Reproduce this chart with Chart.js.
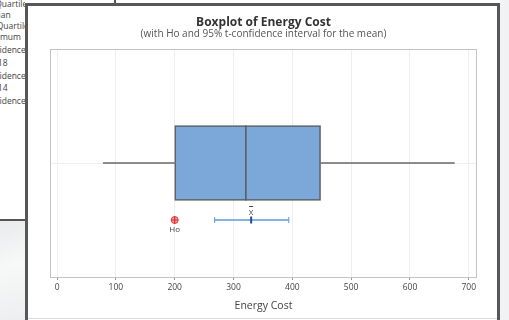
<!DOCTYPE html>
<html>
<head>
<meta charset="utf-8">
<title>Boxplot of Energy Cost</title>
<script src="https://cdn.jsdelivr.net/npm/chart.js@4.4.1/dist/chart.umd.min.js"></script>
<style>
    html, body { margin: 0; padding: 0; }
    body {
        width: 509px; height: 320px; overflow: hidden; position: relative;
        background: #f1f2f3;
        font-family: "Open Sans", "Noto Sans", sans-serif;
    }
    /* session window peeking out behind the graph */
    #behind {
        position: absolute; left: 0; top: 0; width: 25px; height: 219px;
        background: #fff; overflow: hidden;
    }
    #behind div {
        position: absolute; left: -19px; white-space: nowrap;
        font-size: 8.5px; line-height: 12px; color: #444;
    }
    #behind-rule { position: absolute; left: 0; top: 219px; width: 25px; height: 2px; background: #555; }
    #desk {
        position: absolute; left: 0; top: 221px; width: 25px; height: 99px;
        background: linear-gradient(160deg, #e9ebec 0%, #f7f8f8 45%, #eceeef 100%);
    }
    #topstrip { position: absolute; left: 25px; top: 0; width: 475px; height: 3px; background: #fff; }
    #topstrip-tick { position: absolute; left: 114px; top: 0; width: 2px; height: 3px; background: #555; }
    #win {
        position: absolute; left: 25px; top: 3px; width: 475px; height: 317px;
        box-sizing: border-box; background: #fff;
        border-left: 3px solid #575757; border-top: 3px solid #575757; border-right: 3px solid #575757;
    }
    #win-bottom { position: absolute; left: 28px; top: 318px; width: 469px; height: 1px; background: #dcdcdc; }
    #chart { position: absolute; left: 28px; top: 6px; }
</style>
</head>
<body>

<div id="behind">
    <div style="top:-2px">1st Quartile</div>
    <div style="top:9px">Median</div>
    <div style="top:20px">3rd Quartile</div>
    <div style="top:31px">Maximum</div>
    <div style="top:44px">Confidence Interval</div>
    <div style="top:57px">301.18</div>
    <div style="top:70px">Confidence Interval</div>
    <div style="top:82px">254.14</div>
    <div style="top:95px">Confidence Interval</div>
    <div style="top:107px">Pr</div>
</div>
<div id="behind-rule"></div>
<div id="desk"></div>
<div id="topstrip"></div>
<div id="topstrip-tick"></div>
<div id="win"></div>
<div id="win-bottom"></div>

<canvas id="chart" width="469" height="312"></canvas>

<script>
/* -------------------------------
   Data
--------------------------------*/
const categories  = ["Energy Cost"];
const whiskerLow  = [78];
const boxQ1       = [200];
const boxMedian   = [321];
const boxQ3       = [448];
const whiskerHigh = [676];

const meanValue   = [330];
const ciLow       = [268];
const ciHigh      = [394];
const hoValue     = [200];

const tickValues  = [0, 100, 200, 300, 400, 500, 600, 700];

// rows on the hidden y scale
const BOX_ROW = 2;
const CI_ROW  = 1;
const BOX_HALF = 0.658;

const FONT = "'Open Sans', 'Noto Sans', sans-serif";

/* -------------------------------
   Plugin: plot frame + labels
--------------------------------*/
const minitabExtras = {
    id: "minitabExtras",
    afterDatasetsDraw(chart) {
        const { ctx, scales: { x, y } } = chart;

        ctx.save();
        ctx.fillStyle = "#444";
        ctx.textAlign = "center";
        ctx.textBaseline = "middle";
        ctx.font = "8px " + FONT;

        // "Ho" under the hypothesised value
        ctx.fillText("Ho", x.getPixelForValue(hoValue[0]), y.getPixelForValue(CI_ROW) + 9.5);

        // X-bar above the mean
        const mx = x.getPixelForValue(meanValue[0]);
        const my = y.getPixelForValue(CI_ROW);
        ctx.fillText("X", mx, my - 7);
        ctx.strokeStyle = "#444";
        ctx.lineWidth = 1;
        ctx.beginPath();
        ctx.moveTo(mx - 2, my - 13.5);
        ctx.lineTo(mx + 2, my - 13.5);
        ctx.stroke();
        ctx.restore();
    },
    afterDraw(chart) {
        const { ctx, chartArea: a } = chart;
        ctx.save();
        ctx.strokeStyle = "#c3c3c3";
        ctx.lineWidth = 1;
        ctx.strokeRect(a.left + 0.5, a.top + 0.5, a.right - a.left - 1, a.bottom - a.top);
        ctx.restore();
    }
};

/* -------------------------------
   Datasets
--------------------------------*/
const boxData   = categories.map((c, i) => ({ x: [boxQ1[i], boxQ3[i]], y: BOX_ROW }));
const medData   = [{ x: boxMedian[0], y: BOX_ROW - BOX_HALF }, { x: boxMedian[0], y: BOX_ROW + BOX_HALF }];
const lowWhisk  = [{ x: whiskerLow[0], y: BOX_ROW }, { x: boxQ1[0], y: BOX_ROW }];
const highWhisk = [{ x: boxQ3[0], y: BOX_ROW }, { x: whiskerHigh[0], y: BOX_ROW }];
const ciData    = [{ x: ciLow[0], y: CI_ROW }, { x: ciHigh[0], y: CI_ROW }];
const meanData  = [{ x: meanValue[0], y: CI_ROW }];
const hoData    = [{ x: hoValue[0], y: CI_ROW }];

const lineBase = {
    type: "line",
    showLine: true,
    pointRadius: 0,
    borderColor: "#686868",
    borderWidth: 1.3,
    order: 1
};

new Chart(document.getElementById("chart"), {
    type: "bar",
    data: {
        datasets: [
            {
                label: "Box",
                data: boxData,
                backgroundColor: "#7ba7d9",
                borderColor: "#595959",
                borderWidth: 1.5,
                borderSkipped: false,
                barThickness: 75,
                order: 5
            },
            Object.assign({}, lineBase, { label: "Median", data: medData, borderColor: "#595959", borderWidth: 1.5 }),
            Object.assign({}, lineBase, { label: "Lower whisker", data: lowWhisk }),
            Object.assign({}, lineBase, { label: "Upper whisker", data: highWhisk }),
            {
                type: "line",
                label: "95% CI",
                data: ciData,
                borderColor: "#5d9ad8",
                borderWidth: 1.5,
                pointStyle: "line",
                rotation: 90,
                pointRadius: 3,
                pointBorderColor: "#5d9ad8",
                pointBorderWidth: 1,
                order: 2
            },
            {
                type: "line",
                label: "Mean",
                data: meanData,
                showLine: false,
                pointStyle: "line",
                rotation: 90,
                pointRadius: 3.5,
                pointBorderColor: "#1d4f93",
                pointBorderWidth: 2,
                order: 0
            },
            {
                type: "line",
                label: "Ho",
                data: hoData,
                showLine: false,
                pointStyle: "cross",
                pointRadius: 3.5,
                pointBorderColor: "#d92a2a",
                pointBorderWidth: 1.2,
                order: 0
            },
            {
                type: "line",
                label: "Ho ring",
                data: hoData,
                showLine: false,
                pointStyle: "circle",
                pointRadius: 3.5,
                pointBackgroundColor: "#f5a3a3",
                pointBorderColor: "#e03a3a",
                pointBorderWidth: 1,
                order: 1
            }
        ]
    },
    options: {
        indexAxis: "y",
        responsive: false,
        animation: false,
        devicePixelRatio: 1,
        layout: { padding: { left: 22, right: 20, top: 0, bottom: 0 } },
        plugins: {
            legend: { display: false },
            tooltip: { enabled: false },
            title: {
                display: true,
                text: "Boxplot of Energy Cost",
                fullSize: false,
                color: "#333",
                font: { family: FONT, size: 12, weight: "bold", lineHeight: 1.2 },
                padding: { top: 9, bottom: 0 }
            },
            subtitle: {
                display: true,
                text: "(with Ho and 95% t-confidence interval for the mean)",
                fullSize: false,
                color: "#555",
                font: { family: FONT, size: 10, lineHeight: 1.0 },
                padding: { top: 0, bottom: 9.6 }
            }
        },
        scales: {
            x: {
                type: "linear",
                min: -12,
                max: 714,
                afterBuildTicks: s => { s.ticks = tickValues.map(v => ({ value: v })); },
                afterFit: s => { s.height = 41; },
                grid: { color: "#eeeeee", tickColor: "#9a9a9a", tickLength: 3, lineWidth: 1 },
                border: { display: false },
                ticks: { color: "#444", padding: 2, font: { family: FONT, size: 8.5 }, maxRotation: 0 },
                title: {
                    display: true,
                    text: "Energy Cost",
                    color: "#444",
                    font: { family: FONT, size: 10.5, lineHeight: 1.2 },
                    padding: { top: 5, bottom: 5.7 }
                }
            },
            y: {
                type: "linear",
                min: 0,
                max: 4,
                offset: false,
                afterBuildTicks: s => { s.ticks = [{ value: BOX_ROW }]; },
                ticks: { display: false },
                grid: { color: "#efefef", drawTicks: false, offset: false },
                border: { display: false }
            }
        }
    },
    plugins: [minitabExtras]
});
</script>
</body>
</html>
